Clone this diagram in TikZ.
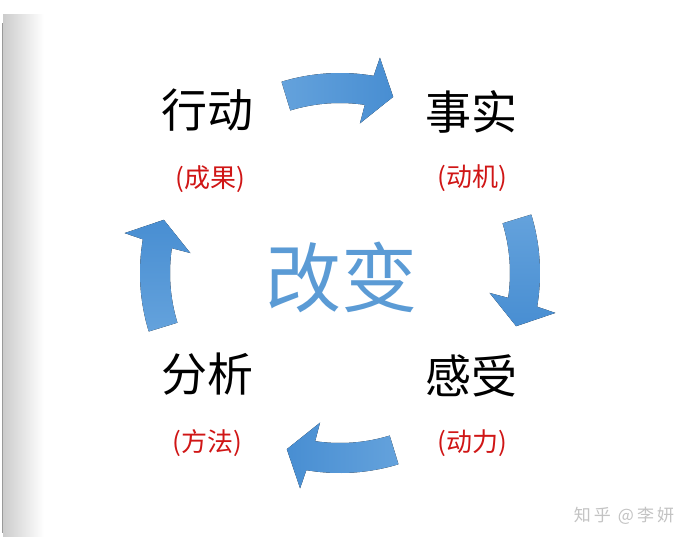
\documentclass[tikz,border=0pt]{standalone}
\usepackage{fontspec}
\setmainfont{Noto Sans CJK SC}
\usetikzlibrary{calc}
\definecolor{arrowlight}{RGB}{100,162,220}
\definecolor{arrowdark}{RGB}{72,142,210}
\definecolor{centerblue}{RGB}{91,155,213}
\definecolor{labelred}{RGB}{208,22,22}
\definecolor{wmgray}{RGB}{195,195,195}
\newcommand\cycarrow[2]{%
  \fill[#2] ({107+#1}:170) -- ({107+#1}:200)
    arc[start angle={107+#1}, end angle={80.3+#1}, radius=200pt]
    -- ({79.5+#1}:219) -- ({73.2+#1}:184) -- ({82.4+#1}:151) -- ({81.6+#1}:170)
    arc[start angle={81.6+#1}, end angle={107+#1}, radius=170pt] -- cycle;}
\begin{document}
\begin{tikzpicture}[x=1pt,y=1pt,
  mainlabel/.style={font=\fontsize{46}{50}\selectfont, text=black, inner sep=0pt},
  sublabel/.style={font=\fontsize{26}{30}\selectfont, text=labelred, inner sep=0pt},
  centerlabel/.style={font=\fontsize{76}{80}\selectfont, text=centerblue, inner sep=0pt},
  wmlabel/.style={font=\fontsize{17}{19}\selectfont, text=wmgray, inner sep=0pt},
  topA/.style={left color=arrowlight, right color=arrowdark},
  rightA/.style={top color=arrowlight, bottom color=arrowdark},
  bottomA/.style={left color=arrowdark, right color=arrowlight},
  leftA/.style={top color=arrowdark, bottom color=arrowlight}]
\useasboundingbox (0,0) rectangle (695,-547);
\fill[white] (0,0) rectangle (695,-547);
% left page shadow
\shade[left color=black!20, right color=white] (3,-14) rectangle (44,-536);
\draw[black!40, line width=1.2pt] (2.5,-23) -- (2.5,-533);
% cycle arrows
\begin{scope}[shift={(340,-273)}]
  \cycarrow{0}{topA}
  \cycarrow{-90}{rightA}
  \cycarrow{-180}{bottomA}
  \cycarrow{90}{leftA}
\end{scope}
% labels
\node[mainlabel] (xd) at (207,-110) {行动};
\node[mainlabel] (ss) at (471,-112) {事实};
\node[mainlabel] (gs) at (471,-376) {感受};
\node[mainlabel] (fx) at (207,-374) {分析};
\node[sublabel] (cg) at (210,-179) {(成果)};
\node[sublabel] (dj) at (472,-178) {(动机)};
\node[sublabel] (dl) at (472,-443) {(动力)};
\node[sublabel] (ff) at (207,-443) {(方法)};
\node[centerlabel] (gb) at (341,-277) {改变};
\node[wmlabel] (wm) at (624,-516) {知\kern3pt 乎\kern7pt @\kern3pt 李\kern3pt 妍};
\end{tikzpicture}
\end{document}
